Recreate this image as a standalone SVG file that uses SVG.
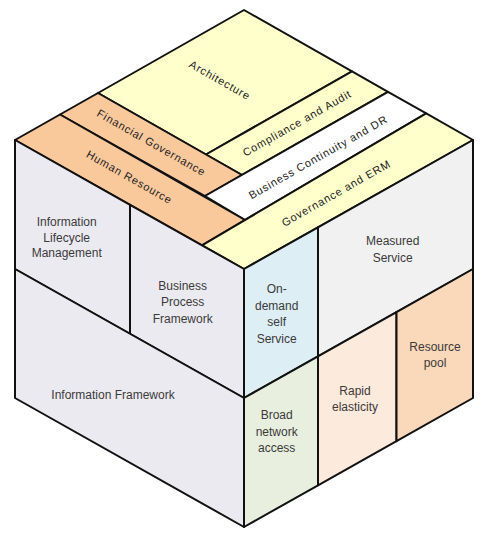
<svg xmlns="http://www.w3.org/2000/svg" width="490" height="539" viewBox="0 0 490 539">
<style>
.f{stroke:#111;stroke-width:2;stroke-linejoin:round}
.yel{fill:#FFFFCC}
.org{fill:#F9C99C}
.wht{fill:#FFFFFF}
.lav{fill:#ECEAF1}
.gry{fill:#F1F1F1}
.blu{fill:#DDEEF5}
.grn{fill:#E8EFDF}
.pch{fill:#FCEADC}
.pch2{fill:#FAD8BA}
.tt{font-family:"Liberation Sans",Arial,sans-serif;font-size:11px;letter-spacing:0.8px;fill:#222;text-anchor:middle;dominant-baseline:central}
.ft{font-family:"Liberation Sans",Arial,sans-serif;font-size:12px;fill:#3a3a3a;text-anchor:middle}
</style>
<rect width="490" height="539" fill="#fff"/>
<g id="architecture">
<polygon class="f yel" points="244,10 98,93 206,154.5 352,71.3"/>
<text class="tt" transform="translate(220,80) rotate(29.6)">Architecture</text>
</g>
<g id="compliance-audit">
<polygon class="f yel" points="206,154.5 352,71.3 388,91.8 242,175"/>
<text class="tt" transform="translate(297,123) rotate(-29.6)">Compliance and Audit</text>
</g>
<g id="financial-governance">
<polygon class="f org" points="98,93 242,175 205,196 60,114.5"/>
<text class="tt" transform="translate(151.5,142.5) rotate(29.6)">Financial Governance</text>
</g>
<g id="business-continuity">
<polygon class="f wht" points="205,196 388,91.8 426.2,113.4 245,220"/>
<text class="tt" transform="translate(318,157) rotate(-29.6)">Business Continuity and DR</text>
</g>
<g id="human-resource">
<polygon class="f org" points="60,114.5 245,220 202,245.3 15,140"/>
<text class="tt" transform="translate(129.5,177) rotate(29.6)">Human Resource</text>
</g>
<g id="governance-erm">
<polygon class="f yel" points="202,245.3 426.2,113.4 473,140 244,269"/>
<text class="tt" transform="translate(336,193) rotate(-29.6)">Governance and ERM</text>
</g>
<g id="information-lifecycle">
<polygon class="f lav" points="15,140 130,204.8 130,333.8 15,269"/>
<text class="ft" x="66.7" y="226">Information</text>
<text class="ft" x="66.7" y="241.5">Lifecycle</text>
<text class="ft" x="66.7" y="257">Management</text>
</g>
<g id="business-process">
<polygon class="f lav" points="130,204.8 244,269 244,398 130,333.8"/>
<text class="ft" x="182.7" y="290.3">Business</text>
<text class="ft" x="182.7" y="306">Process</text>
<text class="ft" x="182.7" y="322.6">Framework</text>
</g>
<g id="information-framework">
<polygon class="f lav" points="15,269 244,398 244,527 15,398"/>
<text class="ft" x="113" y="398.5">Information Framework</text>
</g>
<g id="on-demand">
<polygon class="f blu" points="244,269 318,227.3 318,356.3 244,398"/>
<text class="ft" x="276.7" y="292.6">On-</text>
<text class="ft" x="276.7" y="310">demand</text>
<text class="ft" x="276.7" y="326">self</text>
<text class="ft" x="276.7" y="342.6">Service</text>
</g>
<g id="measured-service">
<polygon class="f gry" points="318,227.3 473,140 473,269 318,356.3"/>
<text class="ft" x="392.7" y="245.3">Measured</text>
<text class="ft" x="392.7" y="262">Service</text>
</g>
<g id="broad-network">
<polygon class="f grn" points="244,398 318,356.3 318,485.3 244,527"/>
<text class="ft" x="276.7" y="418.6">Broad</text>
<text class="ft" x="276.7" y="435.5">network</text>
<text class="ft" x="276.7" y="451.5">access</text>
</g>
<g id="rapid-elasticity">
<polygon class="f pch" points="318,356.3 396.5,312.1 396.5,441.1 318,485.3"/>
<text class="ft" x="355" y="394.7">Rapid</text>
<text class="ft" x="355" y="410.7">elasticity</text>
</g>
<g id="resource-pool">
<polygon class="f pch2" points="396.5,312.1 473,269 473,398 396.5,441.1"/>
<text class="ft" x="435" y="351">Resource</text>
<text class="ft" x="435" y="366.5">pool</text>
</g>
<g id="connectors"></g>
</svg>
